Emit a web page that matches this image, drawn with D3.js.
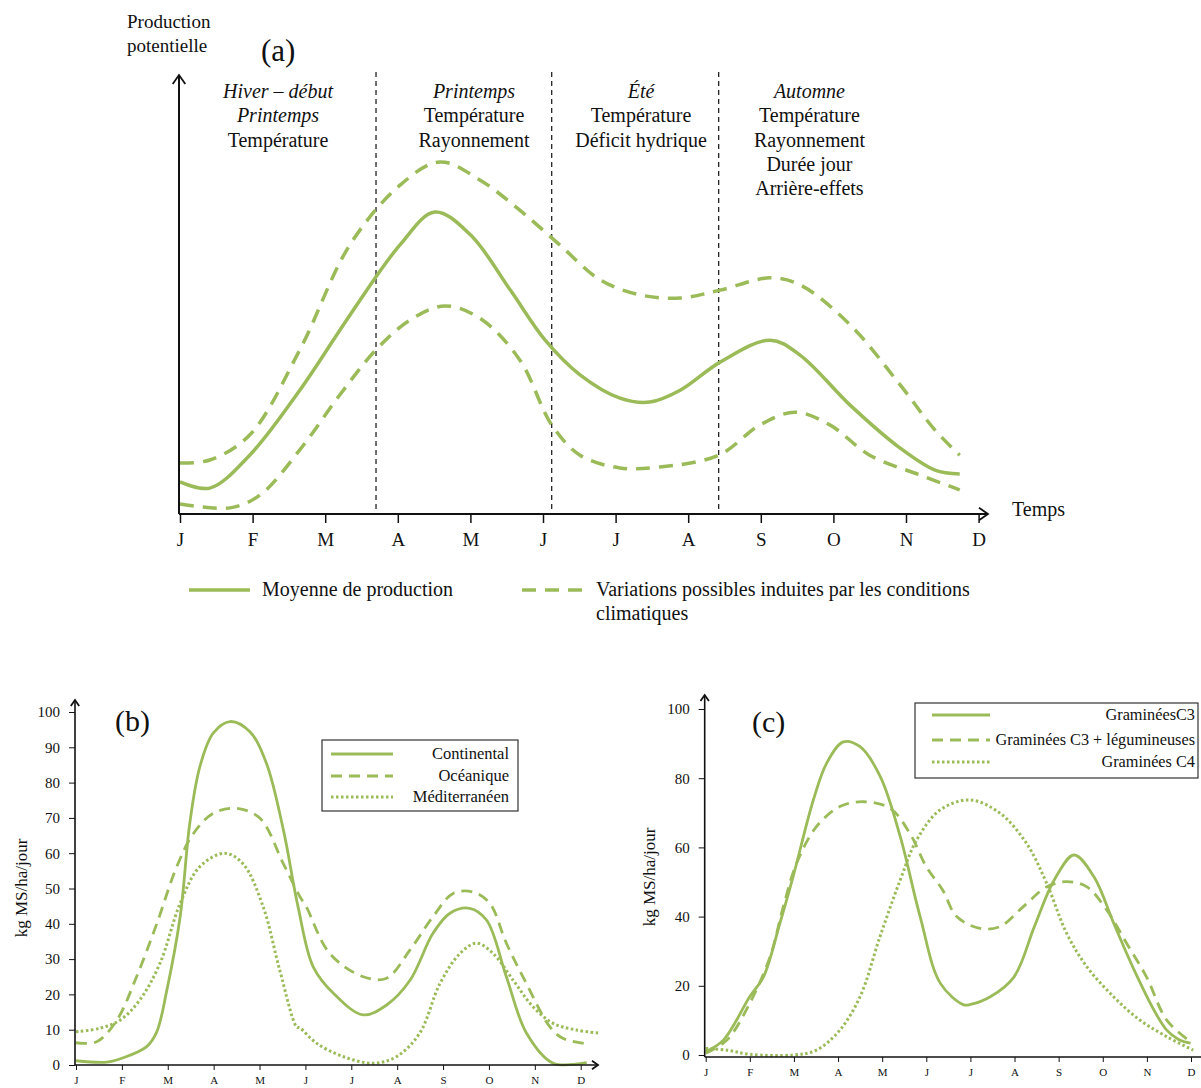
<!DOCTYPE html>
<html>
<head>
<meta charset="utf-8">
<script src="https://cdn.jsdelivr.net/npm/d3@7"></script>
<style>
  body { margin: 0; background: #fff; }
  svg text { font-family: "Liberation Serif", "DejaVu Serif", serif; fill: #111; }
</style>
</head>
<body>
<svg id="chart" width="1201" height="1088"></svg>
<script>
// ---- data ----
const months = ["J","F","M","A","M","J","J","A","S","O","N","D"];

// panel (a): month position (0 = J, 11 = D) and relative production
const aMeanX  = [0, 0.41, 0.96, 1.65, 2.34, 3.03, 3.51, 4.0, 4.55, 5.03, 5.51, 6.06, 6.47, 6.89, 7.44, 8.13, 8.54, 9.23, 9.92, 10.4, 10.74];
const aMeanY  = [7.3, 5.9, 13.4, 28.2, 45.3, 61.3, 68.8, 63.6, 51.0, 39.6, 31.7, 26.4, 25.5, 28.2, 34.6, 39.6, 36.2, 24.8, 15.0, 10.0, 9.1];
const aHighX  = [0, 0.41, 0.96, 1.65, 2.34, 3.03, 3.58, 4.13, 4.68, 5.23, 5.79, 6.34, 6.89, 7.44, 8.13, 8.54, 9.23, 9.92, 10.4, 10.74];
const aHighY  = [11.6, 12.3, 18.0, 37.4, 61.3, 74.9, 80.2, 76.1, 69.2, 61.3, 53.3, 49.9, 49.2, 51.0, 53.8, 52.2, 43.1, 29.4, 19.1, 13.4];
const aLowX   = [0, 0.69, 1.10, 1.65, 2.20, 2.70, 3.17, 3.65, 4.13, 4.68, 5.12, 5.51, 6.06, 6.61, 7.42, 7.99, 8.47, 8.95, 9.5, 10.19, 10.74];
const aLowY   = [2.3, 1.4, 4.3, 14.6, 27.1, 37.4, 44.2, 47.4, 44.6, 35.1, 20.3, 13.4, 10.5, 10.7, 13.4, 20.3, 23.2, 20.3, 13.4, 8.9, 5.5];
const seasonBreaks = [2.7, 5.12, 7.42];
const seasons = [
  {at: 1.35, lines: [["Hiver – début", true], ["Printemps", true], ["Température", false]]},
  {at: 4.05, lines: [["Printemps", true], ["Température", false], ["Rayonnement", false]]},
  {at: 6.35, lines: [["Été", true], ["Température", false], ["Déficit hydrique", false]]},
  {at: 8.67, lines: [["Automne", true], ["Température", false], ["Rayonnement", false], ["Durée jour", false], ["Arrière-effets", false]]}
];

// panel (b): kg MS/ha/jour by climate
const bContX = [0, 0.67, 1.0, 1.54, 1.76, 1.98, 2.27, 2.48, 2.70, 2.99, 3.36, 3.79, 4.15, 4.52, 4.84, 5.17, 5.61, 6.26, 6.77, 7.28, 7.78, 8.15, 8.58, 8.95, 9.38, 9.82, 10.4, 11.13];
const bContY = [1.2, 0.8, 1.9, 5.2, 9.4, 21.2, 42, 68.5, 84.5, 94, 97.3, 94.4, 85.5, 66.6, 44.8, 27.8, 20.3, 14.2, 17, 24, 37.3, 43, 44.4, 41, 25, 9, 0.5, 0.7];
const bOceX  = [0, 0.45, 0.89, 1.32, 1.76, 2.19, 2.56, 2.99, 3.50, 4.01, 4.52, 4.88, 5.02, 5.53, 6.26, 6.77, 7.28, 7.78, 8.22, 8.66, 9.02, 9.38, 9.82, 10.33, 10.62, 11.13];
const bOceY  = [6.3, 6.6, 12.7, 25, 40, 56, 65.6, 71.3, 72.7, 69.9, 57, 47.7, 44.8, 31.6, 25, 24.6, 32.6, 42, 48.6, 49, 45.8, 34.5, 23, 10.8, 7.5, 6];
const bMedX  = [0, 0.52, 0.96, 1.39, 1.83, 2.27, 2.70, 3.24, 3.64, 4.08, 4.44, 4.81, 4.88, 5.24, 5.82, 6.48, 6.99, 7.49, 7.93, 8.37, 8.73, 9.09, 9.53, 9.96, 10.40, 10.91, 11.42];
const bMedY  = [9.4, 10.4, 12.7, 18.4, 28.8, 45.8, 56.2, 60, 57, 44.8, 26.9, 10.8, 10.5, 6.2, 2.4, 0.5, 2.4, 9, 23, 31.6, 34.5, 31.6, 24, 16.5, 11.8, 9.9, 9];

// panel (c): kg MS/ha/jour by sward type
const cC3X  = [0, 0.40, 1.00, 1.31, 1.68, 1.98, 2.44, 2.74, 3.12, 3.50, 3.96, 4.41, 4.86, 5.32, 5.85, 6.00, 6.46, 6.99, 7.45, 7.90, 8.35, 8.80, 9.25, 9.71, 10.16, 10.45, 10.72, 10.99];
const cC3Y  = [1, 4.3, 16.9, 22.6, 38, 51.5, 73.7, 84.3, 90.5, 89.1, 80.4, 63.1, 40, 20.7, 14.5, 14.6, 16.9, 22.6, 37.1, 50.6, 57.8, 51.5, 38, 24.6, 13, 7.2, 4.5, 3.4];
const cLegX = [0, 0.48, 1.0, 1.46, 1.76, 2.06, 2.51, 3.04, 3.57, 4.18, 4.63, 5.0, 5.37, 5.69, 6.22, 6.67, 7.2, 7.73, 8.18, 8.64, 9.09, 9.54, 9.99, 10.45, 10.99];
const cLegY = [0.5, 4.3, 15, 28.4, 42.9, 55.4, 66, 71.8, 73.2, 71.3, 64, 54.4, 47.7, 40, 36.6, 37.1, 42.9, 48.6, 50.1, 48.6, 41.9, 32.3, 22.6, 10.1, 3.8];
const cC4X  = [0, 0.48, 1.0, 1.98, 2.51, 3.04, 3.50, 3.95, 4.41, 4.78, 5.31, 5.99, 6.67, 7.27, 7.73, 8.18, 8.64, 9.24, 9.84, 10.45, 11.05];
const cC4Y  = [1.9, 1.4, 0.2, 0, 1.4, 7.2, 16.9, 34.2, 50.6, 62.1, 70.8, 73.7, 69.9, 61.2, 49.6, 35.2, 25.5, 16.9, 10.1, 5.3, 1.4];

const green = "#9bbb59";
const svg = d3.select("#chart");

function zipPts(xs, ys){ return xs.map((x, i) => [x, ys[i]]); }

function arrowHead(g, x, y, dir, size){
  // open chevron arrow
  let d;
  if(dir === "up") d = `M${x-size*0.7},${y+size} L${x},${y} L${x+size*0.7},${y+size}`;
  else d = `M${x-size},${y-size*0.7} L${x},${y} L${x-size},${y+size*0.7}`;
  g.append("path").attr("d", d).attr("fill", "none").attr("stroke", "#111").attr("stroke-width", 1.8);
}

// ================= panel (a) =================
const ga = svg.append("g");
const xa = d3.scaleLinear().domain([0, 11]).range([180, 978.6]);
const ya = d3.scaleLinear().domain([0, 100]).range([514, 75]);
const lineA = d3.line().x(d => xa(d[0])).y(d => ya(d[1])).curve(d3.curveCatmullRom.alpha(0.5));

seasonBreaks.forEach(m => {
  ga.append("line").attr("x1", xa(m)).attr("x2", xa(m)).attr("y1", 72).attr("y2", 514)
    .attr("stroke", "#111").attr("stroke-width", 1.2).attr("stroke-dasharray", "5,4");
});

ga.append("path").attr("d", lineA(zipPts(aHighX, aHighY))).attr("fill", "none")
  .attr("stroke", green).attr("stroke-width", 3.5).attr("stroke-dasharray", "14,9");
ga.append("path").attr("d", lineA(zipPts(aLowX, aLowY))).attr("fill", "none")
  .attr("stroke", green).attr("stroke-width", 3.5).attr("stroke-dasharray", "14,9");
ga.append("path").attr("d", lineA(zipPts(aMeanX, aMeanY))).attr("fill", "none")
  .attr("stroke", green).attr("stroke-width", 3.5);

// axes
ga.append("line").attr("x1", 179).attr("x2", 179).attr("y1", 514).attr("y2", 75).attr("stroke", "#111").attr("stroke-width", 2);
arrowHead(ga, 179, 75, "up", 9);
ga.append("line").attr("x1", 179).attr("x2", 988).attr("y1", 514).attr("y2", 514).attr("stroke", "#111").attr("stroke-width", 2);
arrowHead(ga, 988, 514, "right", 9);

const axA = ga.append("g").attr("transform", "translate(0,514)")
  .call(d3.axisBottom(xa).tickValues(d3.range(12)).tickFormat(i => months[i]).tickSize(9).tickPadding(10));
axA.select(".domain").remove();
axA.selectAll("line").attr("stroke", "#111").attr("stroke-width", 1.5);
axA.selectAll("text").style("font-family", "Liberation Serif").style("font-size", "19px").attr("fill", "#111");

ga.append("text").attr("x", 127).attr("y", 28).style("font-size", "19px").text("Production");
ga.append("text").attr("x", 127).attr("y", 52).style("font-size", "19px").text("potentielle");
ga.append("text").attr("x", 261).attr("y", 61).style("font-size", "31px").text("(a)");
ga.append("text").attr("x", 1012).attr("y", 516).style("font-size", "20px").text("Temps");

seasons.forEach(s => {
  s.lines.forEach((l, i) => {
    ga.append("text").attr("x", xa(s.at)).attr("y", 98 + i * 24.3)
      .attr("text-anchor", "middle").style("font-size", "20px")
      .style("font-style", l[1] ? "italic" : "normal").text(l[0]);
  });
});

// legend (a)
ga.append("line").attr("x1", 189).attr("x2", 250).attr("y1", 590).attr("y2", 590).attr("stroke", green).attr("stroke-width", 3.5);
ga.append("text").attr("x", 262).attr("y", 596).style("font-size", "20px").text("Moyenne de production");
ga.append("line").attr("x1", 522).attr("x2", 586).attr("y1", 590).attr("y2", 590).attr("stroke", green).attr("stroke-width", 3.5).attr("stroke-dasharray", "14,9");
ga.append("text").attr("x", 596).attr("y", 596).style("font-size", "20px").text("Variations possibles induites par les conditions");
ga.append("text").attr("x", 596).attr("y", 620).style("font-size", "20px").text("climatiques");

// ================= small panels =================
function smallPanel(cfg){
  const g = svg.append("g");
  const x = d3.scaleLinear().domain([0, 11]).range(cfg.xr);
  const y = d3.scaleLinear().domain([0, 100]).range(cfg.yr);
  const line = d3.line().x(d => x(d[0])).y(d => y(d[1])).curve(d3.curveCatmullRom.alpha(0.5));

  cfg.series.forEach(s => {
    g.append("path").attr("d", line(zipPts(s.xs, s.ys))).attr("fill", "none")
      .attr("stroke", green).attr("stroke-width", s.dash === "dot" ? 3 : 2.8)
      .attr("stroke-dasharray", s.dash === "dash" ? "11,7" : s.dash === "dot" ? "2.5,2.5" : null);
  });

  const ax = cfg.xr[0] - 1;
  const y0 = cfg.axisY;
  g.append("line").attr("x1", ax).attr("x2", ax).attr("y1", y0).attr("y2", cfg.yTop).attr("stroke", "#111").attr("stroke-width", 1.6);
  arrowHead(g, ax, cfg.yTop, "up", 6);
  g.append("line").attr("x1", ax).attr("x2", cfg.xEnd).attr("y1", y0).attr("y2", y0).attr("stroke", "#111").attr("stroke-width", 1.6);
  if(cfg.xArrow) arrowHead(g, cfg.xEnd, y0, "right", 6);

  const yAx = g.append("g").attr("transform", `translate(${ax},0)`)
    .call(d3.axisLeft(y).tickValues(cfg.yTicks).tickSize(6).tickPadding(9));
  yAx.select(".domain").remove();
  yAx.selectAll("line").attr("stroke", "#111");
  yAx.selectAll("text").style("font-family", "Liberation Serif").style("font-size", "15px").attr("fill", "#111");

  const xAx = g.append("g").attr("transform", `translate(0,${y0})`)
    .call(d3.axisBottom(x).tickValues(d3.range(12)).tickFormat(i => months[i]).tickSize(5).tickPadding(6));
  xAx.select(".domain").remove();
  xAx.selectAll("line").attr("stroke", "#111");
  xAx.selectAll("text").style("font-family", "Liberation Serif").style("font-size", "11px").attr("fill", "#111");

  g.append("text").attr("transform", `translate(${cfg.labelX},${cfg.labelY}) rotate(-90)`)
    .attr("text-anchor", "middle").style("font-size", "17px").text("kg MS/ha/jour");
  g.append("text").attr("x", cfg.tagX).attr("y", cfg.tagY).style("font-size", "30px").text(cfg.tag);

  // legend box
  const lb = cfg.legend;
  g.append("rect").attr("x", lb.x).attr("y", lb.y).attr("width", lb.w).attr("height", lb.h)
    .attr("fill", "#fff").attr("stroke", "#333").attr("stroke-width", 1.2);
  cfg.series.forEach((s, i) => {
    const yy = lb.rows[i];
    g.append("line").attr("x1", lb.lx0).attr("x2", lb.lx1).attr("y1", yy).attr("y2", yy)
      .attr("stroke", green).attr("stroke-width", s.dash === "dot" ? 3 : 2.8)
      .attr("stroke-dasharray", s.dash === "dash" ? "11,7" : s.dash === "dot" ? "2.5,2.5" : null);
    g.append("text").attr("x", lb.tx).attr("y", yy + 5).attr("text-anchor", "end")
      .style("font-size", lb.fs).text(s.name);
  });
}

smallPanel({
  xr: [76, 580.7], yr: [1065, 712], axisY: 1065, yTop: 700, xEnd: 598, xArrow: true,
  yTicks: d3.range(0, 101, 10), labelX: 27, labelY: 888, tag: "(b)", tagX: 115, tagY: 731,
  series: [
    {name: "Continental", xs: bContX, ys: bContY, dash: "solid"},
    {name: "Océanique", xs: bOceX, ys: bOceY, dash: "dash"},
    {name: "Méditerranéen", xs: bMedX, ys: bMedY, dash: "dot"}
  ],
  legend: {x: 322, y: 740, w: 196, h: 71, lx0: 331, lx1: 393, tx: 509, rows: [754, 776, 797], fs: "16.5px"}
});

smallPanel({
  xr: [705.7, 1191], yr: [1055, 709], axisY: 1057, yTop: 695, xEnd: 1201, xArrow: false,
  yTicks: d3.range(0, 101, 20), labelX: 655, labelY: 877, tag: "(c)", tagX: 752, tagY: 732,
  series: [
    {name: "GraminéesC3", xs: cC3X, ys: cC3Y, dash: "solid"},
    {name: "Graminées  C3 + légumineuses", xs: cLegX, ys: cLegY, dash: "dash"},
    {name: "Graminées  C4", xs: cC4X, ys: cC4Y, dash: "dot"}
  ],
  legend: {x: 915, y: 703, w: 283, h: 75, lx0: 932, lx1: 990, tx: 1195, rows: [715, 740, 762], fs: "16.3px"}
});
</script>
</body>
</html>
